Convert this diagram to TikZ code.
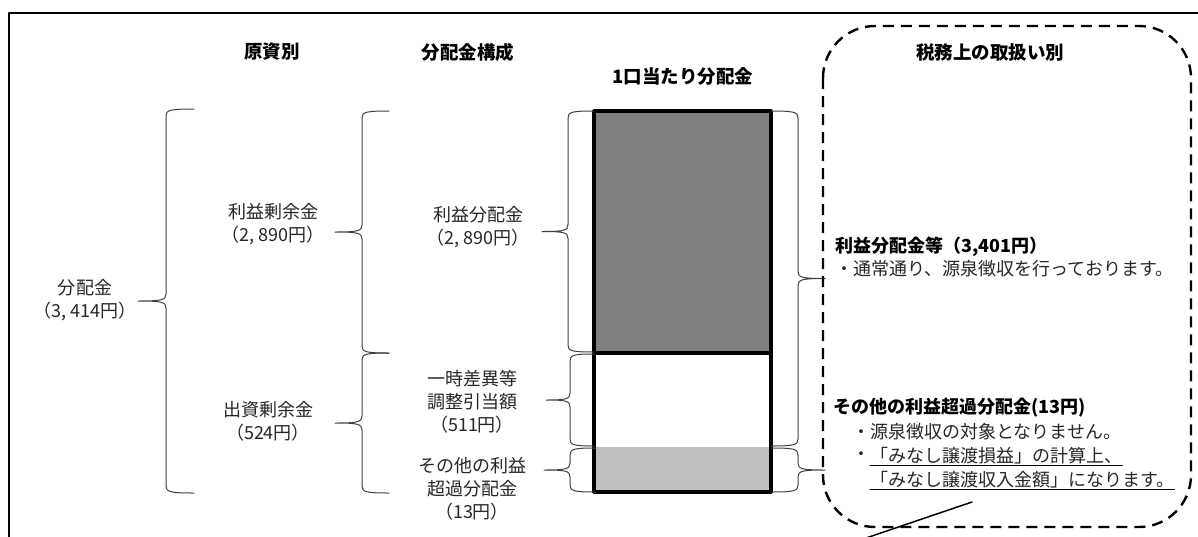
\documentclass[tikz,border=0pt]{standalone}
\usepackage{fontspec}
\newfontfamily\jpfont{Noto Sans CJK JP}
\usetikzlibrary{positioning}

\definecolor{darkbar}{gray}{0.5}
\definecolor{lightbar}{gray}{0.75}

\tikzset{
  hd/.style={font=\jpfont\bfseries\fontsize{18.5}{20}\selectfont},
  txt/.style={font=\jpfont\fontsize{18}{23}\selectfont,align=center,text=black!85,inner sep=0pt},
  note/.style={font=\jpfont\fontsize{18}{22}\selectfont,anchor=west,inner sep=0pt,text=black!85},
  notehd/.style={note,font=\jpfont\bfseries\fontsize{18}{22}\selectfont,text=black},
  brc/.style={line width=1pt,black!75},
  dashbox/.style={line width=2.4pt,line cap=butt,dash pattern=on 11pt off 7pt,rounded corners=52pt},
}

% brace: x of the stem, top, bottom, arm (>0 opens right, <0 opens left)
\newcommand{\drawbrc}[4]{%
  \pgfmathsetmacro{\brcmid}{(#2+#3)/2}
  \draw[brc] ({#1+#4},#2) .. controls ({#1+0.15*#4},#2) and (#1,{#2+1}) .. (#1,{#2+7})
    -- (#1,{\brcmid-7}) .. controls (#1,{\brcmid-1}) and ({#1-0.15*#4},\brcmid) .. ({#1-#4},\brcmid)
    .. controls ({#1-0.15*#4},\brcmid) and (#1,{\brcmid+1}) .. (#1,{\brcmid+7})
    -- (#1,{#3-7}) .. controls (#1,{#3-1}) and ({#1+0.15*#4},#3) .. ({#1+#4},#3);}

\begin{document}
\begin{tikzpicture}[line cap=round,line join=round,x=1pt,y=-1pt]
  \useasboundingbox (0,0) rectangle (1198,536);
  \draw[line width=1.2pt] (1220,13) -- (9,13) -- (9,560);
  % headings
  \node[hd] (src) at (272,52) {原資別};
  \node[hd] (comp) at (468,52) {分配金構成};
  \node[hd] (unit) at (683,77) {1口当たり分配金};
  \node[hd] (tax) at (990,52) {税務上の取扱い別};
  % left column texts
  \node[txt] (total) at (85,300) {分配金\\（3, 414円）};
  \node[txt] (earn) at (273,224) {利益剰余金\\（2, 890円）};
  \node[txt] (cap) at (268,421) {出資剰余金\\（524円）};
  \node[txt] (prof) at (478,227) {利益分配金\\（2, 890円）};
  \node[txt] (temp) at (472,402) {一時差異等\\調整引当額\\（511円）};
  \node[txt] (other) at (472,489) {その他の利益\\超過分配金\\（13円）};
  % bar
  \fill[darkbar] (594,111) rectangle (771,353);
  \fill[lightbar] (594,447) rectangle (771,492);
  \draw[line width=3.2pt] (594,353) -- (771,353);
  \draw[line width=3.2pt] (594,111) rectangle (771,492);
  % braces
  \drawbrc{166}{109}{493}{28}
  \drawbrc{362}{111}{353}{27}
  \drawbrc{362}{353}{493}{27}
  \drawbrc{568}{111}{352}{26}
  \drawbrc{570}{354}{446}{24}
  \drawbrc{570}{448}{492}{26}
  \drawbrc{798}{111}{446}{-27}
  \drawbrc{798}{448}{492}{-27}
  % tax treatment
  \draw[dashbox] (823,26) rectangle (1191,527);
  \node[notehd] (h1) at (835,247) {利益分配金等（3,401円）};
  \node[note] (b1) at (835,269) {・通常通り、源泉徴収を行っております。};
  \node[notehd] (h2) at (833,408) {その他の利益超過分配金(13円)};
  \node[note] (b2) at (852,432) {・源泉徴収の対象となりません。};
  \node[note] (b3) at (852,456) {・};
  \node[note] (t3) at (870,456) {「みなし譲渡損益」の計算上、};
  \node[note] (t4) at (870,480) {「みなし譲渡収入金額」になります。};
  \draw[line width=1pt] ([yshift=-1pt]t3.south west) -- ([yshift=-1pt]t3.south east);
  \draw[line width=1pt] ([yshift=-1pt]t4.south west) -- ([yshift=-1pt]t4.south east);
  \coordinate (call) at (972,502);
  \coordinate (callend) at (866,538);
  \draw[line width=1.5pt] (call) -- (callend);
\end{tikzpicture}
\end{document}
